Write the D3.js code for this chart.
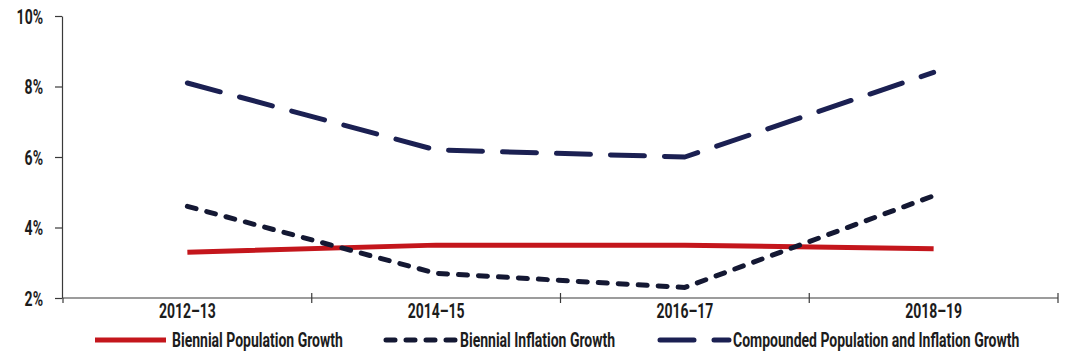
<!DOCTYPE html>
<html>
<head>
<meta charset="utf-8">
<script src="https://cdn.jsdelivr.net/npm/d3@7"></script>
<style>
  html, body { margin: 0; padding: 0; background: #fff; }
  svg text { font-family: "Roboto", "DejaVu Sans", sans-serif; font-weight: 700; fill: #1c1c1c; }
</style>
</head>
<body>
<svg id="chart" width="1069" height="358"></svg>
<script>
// Biennia on the category axis
const periods = ["2012–13", "2014–15", "2016–17", "2018–19"];

// Growth rates, percent
const populationGrowth = [3.3, 3.5, 3.5, 3.4];
const inflationGrowth = [4.6, 2.7, 2.3, 4.9];
const compoundedGrowth = [8.1, 6.2, 6.0, 8.4];

// Value axis ticks, percent
const yTicks = [2, 4, 6, 8, 10];

const seriesNames = [
  "Biennial Population Growth",
  "Biennial Inflation Growth",
  "Compounded Population and Inflation Growth"
];

const svg = d3.select("#chart");

const x = d3.scaleBand().domain(periods).range([63, 1058]);
const y = d3.scaleLinear().domain([2, 10]).range([298, 16]);

const axisColor = "#3a3a3a";
const fontSize = "20px";

// Condensed lettering: every label is drawn at the same horizontal squeeze
const probe = svg.append("text").style("font-size", fontSize).text(seriesNames[0]);
const squeeze = 171 / probe.node().getComputedTextLength();
probe.remove();

// Places a text at (px, py) and narrows it about that point
function place(sel, px, py) {
  sel.attr("x", 0).attr("y", 0)
    .attr("transform", (d, i) => `translate(${px(d, i)},${py(d, i)}) scale(${squeeze},1)`);
}

// Value axis
const yAxis = svg.append("g").attr("transform", "translate(62,0)")
  .call(d3.axisLeft(y).tickValues(yTicks).tickSize(7).tickSizeOuter(0)
    .tickFormat(d => d + "%"));
yAxis.select(".domain").attr("stroke", axisColor).attr("stroke-width", 1.2);
yAxis.selectAll(".tick line").attr("stroke", axisColor).attr("stroke-width", 1.2);
yAxis.selectAll(".tick text").attr("dy", "0.36em")
  .style("font-size", fontSize)
  .call(place, () => -19, () => 0);

// Category axis: baseline with ticks at each band edge
const xAxis = svg.append("g").attr("transform", `translate(0,${y(2)})`);
xAxis.append("line")
  .attr("x1", x.range()[0]).attr("x2", x.range()[1])
  .attr("stroke", axisColor).attr("stroke-width", 1.2);
const edges = periods.map(p => x(p)).concat([x.range()[1]]);
xAxis.selectAll("line.edge").data(edges.slice(1)).join("line")
  .attr("class", "edge")
  .attr("x1", d => d).attr("x2", d => d)
  .attr("y1", -5).attr("y2", 5)
  .attr("stroke", axisColor).attr("stroke-width", 1.2);
xAxis.append("line").attr("x1", edges[0]).attr("x2", edges[0])
  .attr("y1", 0).attr("y2", 5).attr("stroke", axisColor).attr("stroke-width", 1.2);
xAxis.selectAll("text").data(periods).join("text")
  .attr("text-anchor", "middle")
  .style("font-size", fontSize)
  .text(d => d)
  .call(place, d => x(d) + x.bandwidth() / 2, () => 20);

// Series lines
const navy = "#1b2052";
const dark = "#141833";
const red = "#c4161c";
const series = [
  { values: populationGrowth, color: red, dash: null },
  { values: inflationGrowth, color: dark, dash: "9,11" },
  { values: compoundedGrowth, color: navy, dash: "34,20" }
];

const line = d3.line()
  .x((d, i) => x(periods[i]) + x.bandwidth() / 2)
  .y(d => y(d));

svg.append("g").selectAll("path").data(series).join("path")
  .attr("d", d => line(d.values))
  .attr("fill", "none")
  .attr("stroke", d => d.color)
  .attr("stroke-width", 5)
  .attr("stroke-linecap", d => d.dash ? "round" : "butt")
  .attr("stroke-linejoin", "round")
  .attr("stroke-dasharray", d => d.dash);

// Legend
const legend = svg.append("g").attr("transform", "translate(0,340)");
const legendItems = [
  { name: seriesNames[0], color: red, dash: null, x1: 95, x2: 166, tx: 172 },
  { name: seriesNames[1], color: dark, dash: "9,11", x1: 386, x2: 456, tx: 460 },
  { name: seriesNames[2], color: navy, dash: "34,20", x1: 660, x2: 729, tx: 733 }
];
legend.selectAll("line").data(legendItems).join("line")
  .attr("x1", d => d.x1).attr("x2", d => d.x2).attr("y1", 0).attr("y2", 0)
  .attr("stroke", d => d.color).attr("stroke-width", 5)
  .attr("stroke-linecap", d => d.dash ? "round" : "butt")
  .attr("stroke-dasharray", d => d.dash);
legend.selectAll("text").data(legendItems).join("text")
  .attr("dy", "0.36em")
  .style("font-size", fontSize)
  .text(d => d.name)
  .call(place, d => d.tx, () => 0);
</script>
</body>
</html>
